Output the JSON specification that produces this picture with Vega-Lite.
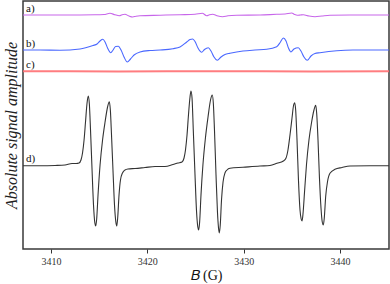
{
  "$schema": "https://vega.github.io/schema/vega-lite/v6.json",
  "width": 366,
  "height": 248,
  "autosize": {"type": "none"},
  "padding": {"top": 1, "left": 23, "right": 1, "bottom": 35},
  "background": "white",
  "config": {
    "view": {"stroke": "#3a3a3a", "strokeWidth": 1.5},
    "font": "Liberation Serif"
  },
  "datasets": {
    "spec": [
      {"s": "a", "B": 3407.09, "v": 234},
      {"s": "a", "B": 3410.93, "v": 234},
      {"s": "a", "B": 3414.57, "v": 234.2},
      {"s": "a", "B": 3415.50, "v": 234.5},
      {"s": "a", "B": 3416.12, "v": 235.7},
      {"s": "a", "B": 3416.64, "v": 234.2},
      {"s": "a", "B": 3417.09, "v": 233.3},
      {"s": "a", "B": 3417.37, "v": 234.2},
      {"s": "a", "B": 3417.68, "v": 234.7},
      {"s": "a", "B": 3418.05, "v": 233.2},
      {"s": "a", "B": 3418.48, "v": 232},
      {"s": "a", "B": 3418.82, "v": 232.8},
      {"s": "a", "B": 3419.24, "v": 233.3},
      {"s": "a", "B": 3421.32, "v": 233.8},
      {"s": "a", "B": 3423.39, "v": 234.3},
      {"s": "a", "B": 3424.95, "v": 234.7},
      {"s": "a", "B": 3425.71, "v": 235.7},
      {"s": "a", "B": 3426.16, "v": 233.3},
      {"s": "a", "B": 3426.45, "v": 234.3},
      {"s": "a", "B": 3426.79, "v": 234.7},
      {"s": "a", "B": 3427.23, "v": 233.3},
      {"s": "a", "B": 3427.82, "v": 232.3},
      {"s": "a", "B": 3428.37, "v": 233.2},
      {"s": "a", "B": 3429.28, "v": 233.7},
      {"s": "a", "B": 3431.70, "v": 234},
      {"s": "a", "B": 3433.43, "v": 234.7},
      {"s": "a", "B": 3434.30, "v": 235},
      {"s": "a", "B": 3434.99, "v": 236},
      {"s": "a", "B": 3435.28, "v": 234.5},
      {"s": "a", "B": 3435.57, "v": 233.7},
      {"s": "a", "B": 3435.88, "v": 234},
      {"s": "a", "B": 3436.19, "v": 234.3},
      {"s": "a", "B": 3436.78, "v": 233},
      {"s": "a", "B": 3437.41, "v": 232.3},
      {"s": "a", "B": 3438.13, "v": 233},
      {"s": "a", "B": 3438.96, "v": 233.7},
      {"s": "a", "B": 3441.04, "v": 234},
      {"s": "a", "B": 3445.09, "v": 234},

      {"s": "b", "B": 3407.09, "v": 199},
      {"s": "b", "B": 3408.86, "v": 199},
      {"s": "b", "B": 3410.93, "v": 198.7},
      {"s": "b", "B": 3413.01, "v": 200},
      {"s": "b", "B": 3414.36, "v": 203.5},
      {"s": "b", "B": 3414.78, "v": 205},
      {"s": "b", "B": 3415.09, "v": 208},
      {"s": "b", "B": 3415.37, "v": 209.7},
      {"s": "b", "B": 3415.61, "v": 207},
      {"s": "b", "B": 3415.87, "v": 201},
      {"s": "b", "B": 3416.20, "v": 196.3},
      {"s": "b", "B": 3416.44, "v": 199},
      {"s": "b", "B": 3416.70, "v": 202.5},
      {"s": "b", "B": 3416.99, "v": 202.7},
      {"s": "b", "B": 3417.27, "v": 199},
      {"s": "b", "B": 3417.58, "v": 192},
      {"s": "b", "B": 3417.92, "v": 187},
      {"s": "b", "B": 3418.25, "v": 190},
      {"s": "b", "B": 3418.62, "v": 194},
      {"s": "b", "B": 3419.24, "v": 197},
      {"s": "b", "B": 3420.28, "v": 198.5},
      {"s": "b", "B": 3421.32, "v": 199},
      {"s": "b", "B": 3422.66, "v": 200.3},
      {"s": "b", "B": 3423.39, "v": 202},
      {"s": "b", "B": 3424.09, "v": 207},
      {"s": "b", "B": 3424.43, "v": 209.5},
      {"s": "b", "B": 3424.71, "v": 210},
      {"s": "b", "B": 3424.95, "v": 207.5},
      {"s": "b", "B": 3425.26, "v": 201},
      {"s": "b", "B": 3425.64, "v": 196.7},
      {"s": "b", "B": 3425.93, "v": 199.5},
      {"s": "b", "B": 3426.33, "v": 201.3},
      {"s": "b", "B": 3426.61, "v": 198},
      {"s": "b", "B": 3426.92, "v": 192},
      {"s": "b", "B": 3427.27, "v": 188.7},
      {"s": "b", "B": 3427.65, "v": 192},
      {"s": "b", "B": 3428.06, "v": 194.5},
      {"s": "b", "B": 3428.58, "v": 195.7},
      {"s": "b", "B": 3429.93, "v": 198},
      {"s": "b", "B": 3431.18, "v": 199},
      {"s": "b", "B": 3432.39, "v": 199.7},
      {"s": "b", "B": 3433.43, "v": 202.3},
      {"s": "b", "B": 3433.82, "v": 207},
      {"s": "b", "B": 3434.12, "v": 211},
      {"s": "b", "B": 3434.40, "v": 208},
      {"s": "b", "B": 3434.65, "v": 201},
      {"s": "b", "B": 3434.91, "v": 197},
      {"s": "b", "B": 3435.22, "v": 200},
      {"s": "b", "B": 3435.67, "v": 201.3},
      {"s": "b", "B": 3435.95, "v": 198},
      {"s": "b", "B": 3436.26, "v": 192},
      {"s": "b", "B": 3436.60, "v": 188.7},
      {"s": "b", "B": 3436.99, "v": 193},
      {"s": "b", "B": 3437.40, "v": 195.5},
      {"s": "b", "B": 3437.92, "v": 196.3},
      {"s": "b", "B": 3439.66, "v": 198.3},
      {"s": "b", "B": 3441.35, "v": 199},
      {"s": "b", "B": 3445.09, "v": 199},

      {"s": "c", "B": 3407.09, "v": 177.7},
      {"s": "c", "B": 3412.0, "v": 177.8},
      {"s": "c", "B": 3417.0, "v": 177.6},
      {"s": "c", "B": 3422.0, "v": 177.7},
      {"s": "c", "B": 3427.0, "v": 177.8},
      {"s": "c", "B": 3432.0, "v": 177.7},
      {"s": "c", "B": 3437.0, "v": 177.6},
      {"s": "c", "B": 3445.09, "v": 177.7},

      {"s": "d", "B": 3407.09, "v": 83.3},
      {"s": "d", "B": 3408.86, "v": 83.2},
      {"s": "d", "B": 3410.42, "v": 83.5},
      {"s": "d", "B": 3411.45, "v": 84},
      {"s": "d", "B": 3412.18, "v": 85.5},
      {"s": "d", "B": 3412.60, "v": 85.5},
      {"s": "d", "B": 3412.91, "v": 86},
      {"s": "d", "B": 3413.11, "v": 89},
      {"s": "d", "B": 3413.27, "v": 96},
      {"s": "d", "B": 3413.43, "v": 109},
      {"s": "d", "B": 3413.58, "v": 127},
      {"s": "d", "B": 3413.74, "v": 146},
      {"s": "d", "B": 3413.87, "v": 153},
      {"s": "d", "B": 3413.98, "v": 145},
      {"s": "d", "B": 3414.10, "v": 119},
      {"s": "d", "B": 3414.26, "v": 79},
      {"s": "d", "B": 3414.41, "v": 44},
      {"s": "d", "B": 3414.55, "v": 26},
      {"s": "d", "B": 3414.64, "v": 23},
      {"s": "d", "B": 3414.74, "v": 30},
      {"s": "d", "B": 3414.88, "v": 54},
      {"s": "d", "B": 3415.09, "v": 84},
      {"s": "d", "B": 3415.35, "v": 109},
      {"s": "d", "B": 3415.61, "v": 127},
      {"s": "d", "B": 3415.87, "v": 142},
      {"s": "d", "B": 3416.05, "v": 147.3},
      {"s": "d", "B": 3416.16, "v": 139},
      {"s": "d", "B": 3416.28, "v": 114},
      {"s": "d", "B": 3416.44, "v": 77},
      {"s": "d", "B": 3416.59, "v": 44},
      {"s": "d", "B": 3416.73, "v": 27},
      {"s": "d", "B": 3416.82, "v": 23},
      {"s": "d", "B": 3416.92, "v": 31},
      {"s": "d", "B": 3417.06, "v": 54},
      {"s": "d", "B": 3417.21, "v": 69},
      {"s": "d", "B": 3417.42, "v": 76},
      {"s": "d", "B": 3417.68, "v": 79},
      {"s": "d", "B": 3417.99, "v": 80},
      {"s": "d", "B": 3418.72, "v": 80.5},
      {"s": "d", "B": 3419.76, "v": 81.5},
      {"s": "d", "B": 3420.80, "v": 82.5},
      {"s": "d", "B": 3421.83, "v": 82.5},
      {"s": "d", "B": 3422.66, "v": 84.5},
      {"s": "d", "B": 3423.18, "v": 86},
      {"s": "d", "B": 3423.60, "v": 87},
      {"s": "d", "B": 3423.81, "v": 91},
      {"s": "d", "B": 3423.96, "v": 99},
      {"s": "d", "B": 3424.12, "v": 114},
      {"s": "d", "B": 3424.27, "v": 134},
      {"s": "d", "B": 3424.43, "v": 152},
      {"s": "d", "B": 3424.53, "v": 158},
      {"s": "d", "B": 3424.64, "v": 151},
      {"s": "d", "B": 3424.77, "v": 119},
      {"s": "d", "B": 3424.95, "v": 74},
      {"s": "d", "B": 3425.10, "v": 39},
      {"s": "d", "B": 3425.24, "v": 22},
      {"s": "d", "B": 3425.33, "v": 19},
      {"s": "d", "B": 3425.43, "v": 27},
      {"s": "d", "B": 3425.57, "v": 54},
      {"s": "d", "B": 3425.77, "v": 84},
      {"s": "d", "B": 3426.03, "v": 111},
      {"s": "d", "B": 3426.30, "v": 132},
      {"s": "d", "B": 3426.56, "v": 149},
      {"s": "d", "B": 3426.74, "v": 154},
      {"s": "d", "B": 3426.85, "v": 146},
      {"s": "d", "B": 3426.97, "v": 119},
      {"s": "d", "B": 3427.13, "v": 74},
      {"s": "d", "B": 3427.28, "v": 37},
      {"s": "d", "B": 3427.39, "v": 21},
      {"s": "d", "B": 3427.47, "v": 16},
      {"s": "d", "B": 3427.57, "v": 24},
      {"s": "d", "B": 3427.70, "v": 49},
      {"s": "d", "B": 3427.86, "v": 67},
      {"s": "d", "B": 3428.06, "v": 76},
      {"s": "d", "B": 3428.27, "v": 79},
      {"s": "d", "B": 3428.58, "v": 80.7},
      {"s": "d", "B": 3429.93, "v": 81.7},
      {"s": "d", "B": 3431.70, "v": 83},
      {"s": "d", "B": 3432.73, "v": 83.5},
      {"s": "d", "B": 3433.46, "v": 85.7},
      {"s": "d", "B": 3434.12, "v": 88},
      {"s": "d", "B": 3434.40, "v": 91},
      {"s": "d", "B": 3434.60, "v": 99},
      {"s": "d", "B": 3434.81, "v": 114},
      {"s": "d", "B": 3435.02, "v": 131},
      {"s": "d", "B": 3435.17, "v": 143},
      {"s": "d", "B": 3435.30, "v": 146.3},
      {"s": "d", "B": 3435.40, "v": 139},
      {"s": "d", "B": 3435.54, "v": 109},
      {"s": "d", "B": 3435.69, "v": 69},
      {"s": "d", "B": 3435.85, "v": 39},
      {"s": "d", "B": 3435.97, "v": 30},
      {"s": "d", "B": 3436.06, "v": 28},
      {"s": "d", "B": 3436.16, "v": 35},
      {"s": "d", "B": 3436.32, "v": 57},
      {"s": "d", "B": 3436.52, "v": 84},
      {"s": "d", "B": 3436.78, "v": 109},
      {"s": "d", "B": 3437.04, "v": 126},
      {"s": "d", "B": 3437.30, "v": 139},
      {"s": "d", "B": 3437.48, "v": 143.7},
      {"s": "d", "B": 3437.58, "v": 136},
      {"s": "d", "B": 3437.72, "v": 109},
      {"s": "d", "B": 3437.87, "v": 71},
      {"s": "d", "B": 3438.03, "v": 41},
      {"s": "d", "B": 3438.16, "v": 27},
      {"s": "d", "B": 3438.27, "v": 24},
      {"s": "d", "B": 3438.37, "v": 31},
      {"s": "d", "B": 3438.52, "v": 53},
      {"s": "d", "B": 3438.70, "v": 67},
      {"s": "d", "B": 3438.96, "v": 75.7},
      {"s": "d", "B": 3439.48, "v": 79.7},
      {"s": "d", "B": 3440.21, "v": 81.5},
      {"s": "d", "B": 3441.04, "v": 83},
      {"s": "d", "B": 3443.12, "v": 83.3},
      {"s": "d", "B": 3445.09, "v": 83.3}
    ],
    "labels": [
      {"s": "a", "label": "a)"},
      {"s": "b", "label": "b)"},
      {"s": "c", "label": "c)"},
      {"s": "d", "label": "d)"}
    ]
  },
  "data": {"name": "spec"},
  "encoding": {
    "x": {
      "field": "B", "type": "quantitative",
      "scale": {"domain": [3407.09, 3445.09], "nice": false, "zero": false},
      "axis": {
        "title": "𝐵 (G)", "values": [3410, 3420, 3430, 3440], "format": "d",
        "domain": false, "grid": false, "tickSize": 4, "tickColor": "#333", "tickWidth": 1,
        "labelFont": "Liberation Serif", "labelFontSize": 10, "labelColor": "#333", "labelPadding": 3,
        "titleFont": "Liberation Serif", "titleFontSize": 14, "titleFontWeight": "normal", "titleColor": "#111", "titlePadding": 2
      }
    },
    "y": {
      "field": "v", "type": "quantitative",
      "scale": {"domain": [0, 248], "nice": false, "zero": false},
      "axis": {
        "title": "Absolute signal amplitude", "labels": false, "ticks": false, "domain": false, "grid": false,
        "titleFont": "Liberation Serif", "titleFontStyle": "italic", "titleFontSize": 16, "titleFontWeight": "normal",
        "titleColor": "#222", "titlePadding": 4
      }
    },
    "color": {
      "field": "s", "type": "nominal",
      "scale": {"domain": ["a", "b", "c", "d"], "range": ["#c766ea", "#4a68ff", "#ff6f72", "#333333"]},
      "legend": null
    }
  },
  "layer": [
    {
      "transform": [{"filter": "datum.s != 'c'"}],
      "mark": {"type": "line", "interpolate": "monotone", "strokeWidth": 1.1}
    },
    {
      "transform": [{"filter": "datum.s == 'c'"}],
      "mark": {"type": "line", "strokeWidth": 2, "opacity": 0.9}
    },
    {
      "transform": [
        {"filter": "datum.B < 3407.2"},
        {"lookup": "s", "from": {"data": {"name": "labels"}, "key": "s", "fields": ["label"]}}
      ],
      "mark": {"type": "text", "align": "left", "baseline": "alphabetic", "dx": 3, "dy": -3.5, "fontSize": 11, "font": "Liberation Serif", "color": "#111"},
      "encoding": {"text": {"field": "label"}, "color": {"value": "#111"}}
    }
  ]
}
